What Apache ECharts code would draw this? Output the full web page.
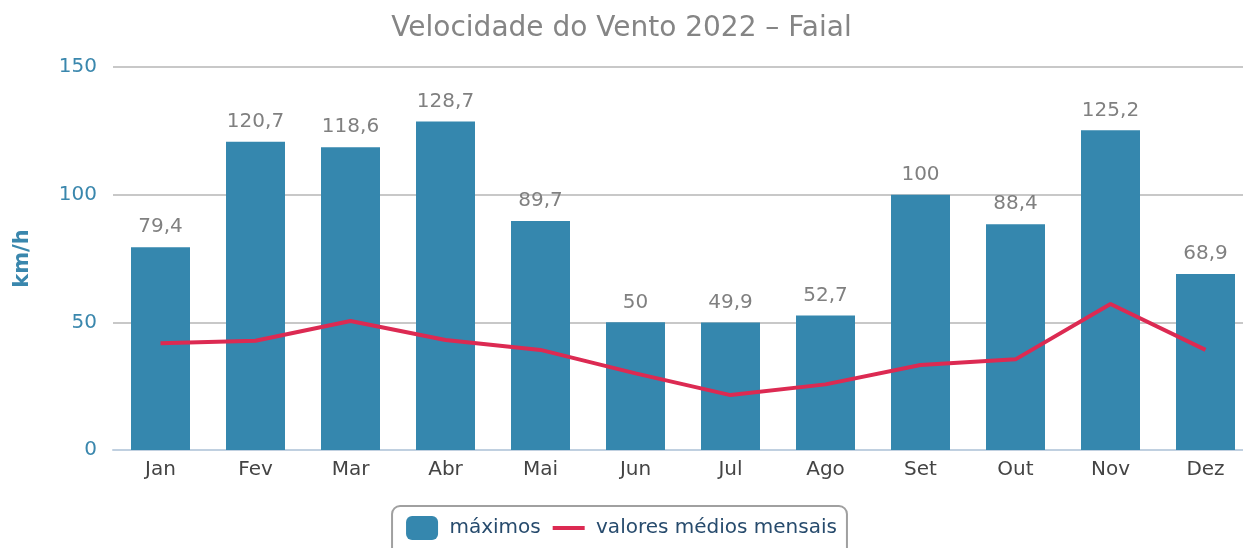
<!DOCTYPE html>
<html>
<head>
<meta charset="utf-8">
<script src="https://cdn.jsdelivr.net/npm/echarts@6/dist/echarts.min.js"></script>
<style>
  html,body{margin:0;padding:0;background:#fff;}
  #chart{width:1243px;height:548px;}
</style>
</head>
<body>
<div id="chart"></div>
<script>
const meses = ["Jan","Fev","Mar","Abr","Mai","Jun","Jul","Ago","Set","Out","Nov","Dez"];
const maximos = [79.4,120.7,118.6,128.7,89.7,50,49.9,52.7,100,88.4,125.2,68.9];
const medios = [41.8,42.8,50.5,43.1,39.2,30,21.5,25.7,33.3,35.5,57.2,39.2];

let myChart = echarts.init(document.getElementById("chart"));
const font = "DejaVu Sans";

myChart.setOption({
    animation:false,
    textStyle:{fontFamily:font},
    title:{
        text:"Velocidade do Vento 2022 – Faial",
        left:"center",
        top:10,
        textStyle:{fontSize:28,fontWeight:"normal",color:"#858585",fontFamily:font}
    },
    legend:{
        bottom:-14,
        left:"center",
        padding:[10,10,22,14],
        borderColor:"#a0a0a0",
        borderWidth:2,
        borderRadius:8,
        itemGap:12,
        itemWidth:32,
        itemHeight:24,
        formatter:(name)=>" "+name,
        textStyle:{fontSize:20,color:"#274b6d",fontFamily:font},
        data:[
            {name:"máximos",icon:"roundRect"},
            {name:"valores médios mensais",icon:"path://M0,0 L32,0 L32,4 L0,4 Z"}
        ]
    },
    grid:{
        left:113,
        width:1140,
        top:67,
        bottom:98,
        outerBoundsMode:"none",
        containLabel:false
    },
    xAxis:{
        type:"category",
        data:meses,
        axisLine:{lineStyle:{color:"#c0d0e0",width:2}},
        axisTick:{lineStyle:{color:"#c0d0e0",width:2},length:9},
        axisLabel:{fontSize:20,color:"#444",margin:10}
    },
    yAxis:{
        type:"value",
        min:0,
        max:150,
        interval:50,
        name:"km/h",
        nameLocation:"middle",
        nameGap:80,
        nameTextStyle:{fontSize:21,fontWeight:"bold",color:"#3a87ad",fontFamily:font},
        axisLabel:{fontSize:20,color:"#3a87ad",margin:16},
        axisTick:{show:false},
        axisLine:{show:false},
        splitLine:{lineStyle:{color:"#c8c8c8",width:2}}
    },
    series:[
        {
            type:"bar",
            name:"máximos",
            data:maximos,
            barWidth:59,
            itemStyle:{color:"#3587ae"},
            label:{
                show:true,
                position:"top",
                distance:10,
                fontSize:20,
                color:"#808080",
                formatter:(p)=>String(p.value).replace(".",",")
            }
        },
        {
            type:"line",
            name:"valores médios mensais",
            data:medios,
            symbol:"none",
            lineStyle:{color:"#dc2a52",width:4},
            itemStyle:{color:"#dc2a52"}
        }
    ]
});
</script>
</body>
</html>
